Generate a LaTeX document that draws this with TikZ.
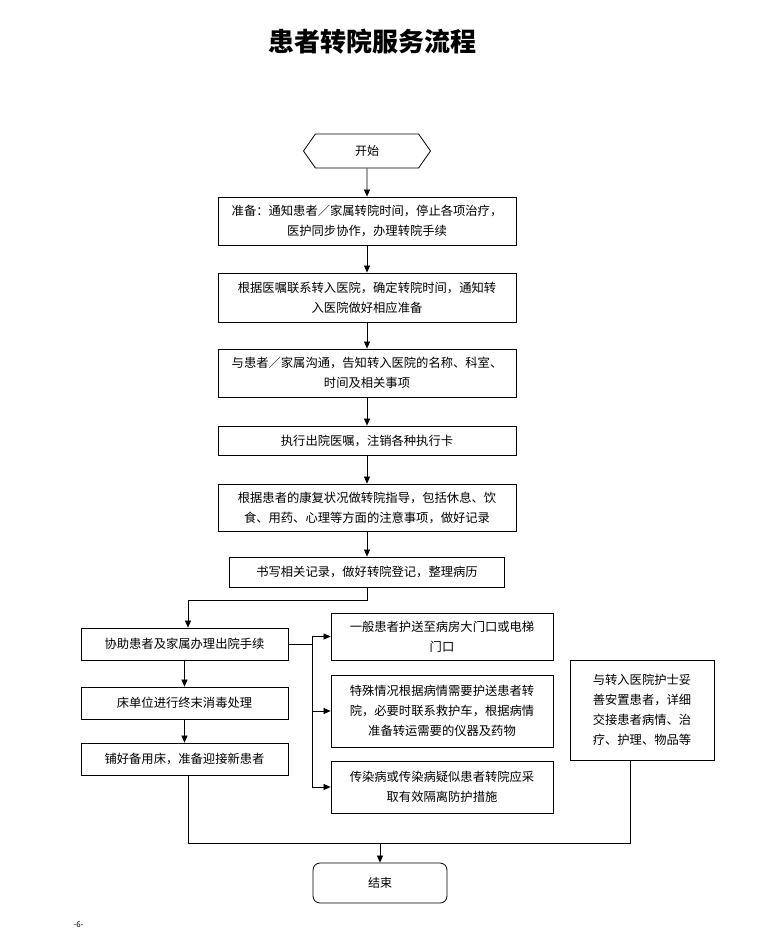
\documentclass[tikz,border=0pt]{standalone}
\usepackage{fontspec}
\setmainfont{Noto Sans CJK SC}
\usetikzlibrary{shapes.geometric,shapes.symbols,arrows.meta}
\begin{document}
\begin{tikzpicture}[x=1pt,y=-1pt,
  box/.style={draw,line width=0.8pt,align=center,font=\fontsize{12.3}{20}\selectfont,inner sep=0pt},
  ar/.style={-{Triangle[length=7pt,width=6pt]},line width=0.7pt},
  ln/.style={line width=0.7pt}]
\useasboundingbox (0,0) rectangle (768,931);
\node[font=\fontsize{26}{30}\selectfont\bfseries] (title) at (372,42) {患者转院服务流程};
\node[draw,line width=0.8pt,signal,signal to=east and west,signal pointer angle=110,minimum width=127pt,minimum height=34pt,inner sep=0pt,font=\fontsize{12}{14}\selectfont] (s) at (367,151) {开始};
\node[box,minimum width=298pt,minimum height=48pt] (b1) at (367,221) {准备：通知患者／家属转院时间，停止各项治疗，\\医护同步协作，办理转院手续};
\node[box,minimum width=298pt,minimum height=49pt] (b2) at (367,297.5) {根据医嘱联系转入医院，确定转院时间，通知转\\入医院做好相应准备};
\node[box,minimum width=298pt,minimum height=48pt] (b3) at (367,373) {与患者／家属沟通，告知转入医院的名称、科室、\\时间及相关事项};
\node[box,minimum width=298pt,minimum height=29pt] (b4) at (367,440.5) {执行出院医嘱，注销各种执行卡};
\node[box,minimum width=298pt,minimum height=47pt] (b5) at (367,507.5) {根据患者的康复状况做转院指导，包括休息、饮\\食、用药、心理等方面的注意事项，做好记录};
\node[box,minimum width=275pt,minimum height=30pt] (b6) at (367,572) {书写相关记录，做好转院登记，整理病历};
\node[box,minimum width=207pt,minimum height=32pt] (l1) at (184.5,644) {协助患者及家属办理出院手续};
\node[box,minimum width=207pt,minimum height=32pt] (l2) at (184.5,703) {床单位进行终末消毒处理};
\node[box,minimum width=207pt,minimum height=32pt] (l3) at (184.5,759) {铺好备用床，准备迎接新患者};
\node[box,minimum width=222pt,minimum height=47pt] (m1) at (442,636.5) {一般患者护送至病房大门口或电梯\\门口};
\node[box,minimum width=222pt,minimum height=72pt] (m2) at (442,711) {特殊情况根据病情需要护送患者转\\院，必要时联系救护车，根据病情\\准备转运需要的仪器及药物};
\node[box,minimum width=222pt,minimum height=52pt] (m3) at (442,787) {传染病或传染病疑似患者转院应采\\取有效隔离防护措施};
\node[box,minimum width=144pt,minimum height=100pt] (r) at (642,710) {与转入医院护士妥\\善安置患者，详细\\交接患者病情、治\\疗、护理、物品等};
\node[draw,line width=0.8pt,rounded corners=7pt,minimum width=134pt,minimum height=40pt,font=\fontsize{12}{14}\selectfont] (e) at (380,883) {结束};
\node[font=\fontsize{8}{9}\selectfont,anchor=west] (pg) at (70,925) {-6-};
\draw[ar] (s) -- (b1);
\draw[ar] (b1) -- (b2);
\draw[ar] (b2) -- (b3);
\draw[ar] (b3) -- (b4);
\draw[ar] (b4) -- (b5);
\draw[ar] (b5) -- (b6);
\coordinate (j1) at (188,600);
\draw[ar] (b6.south) |- (j1) -- (j1 |- l1.north);
\draw[ar] (l1) -- (l2);
\draw[ar] (l2) -- (l3);
\coordinate (br) at (312,644);
\draw[ln] (l1.east) -- (br);
\draw[ar] (br) |- (m1.west);
\draw[ar] (br) |- (m2.west);
\draw[ar] (br) |- (m3.west);
\coordinate (jb) at (188,843);
\coordinate (jr) at (630,843);
\draw[ln] (188,775) -- (jb) -- (jr) -- (r.south -| jr);
\draw[ar] (e.north |- jb) -- (e.north);
\end{tikzpicture}
\end{document}
